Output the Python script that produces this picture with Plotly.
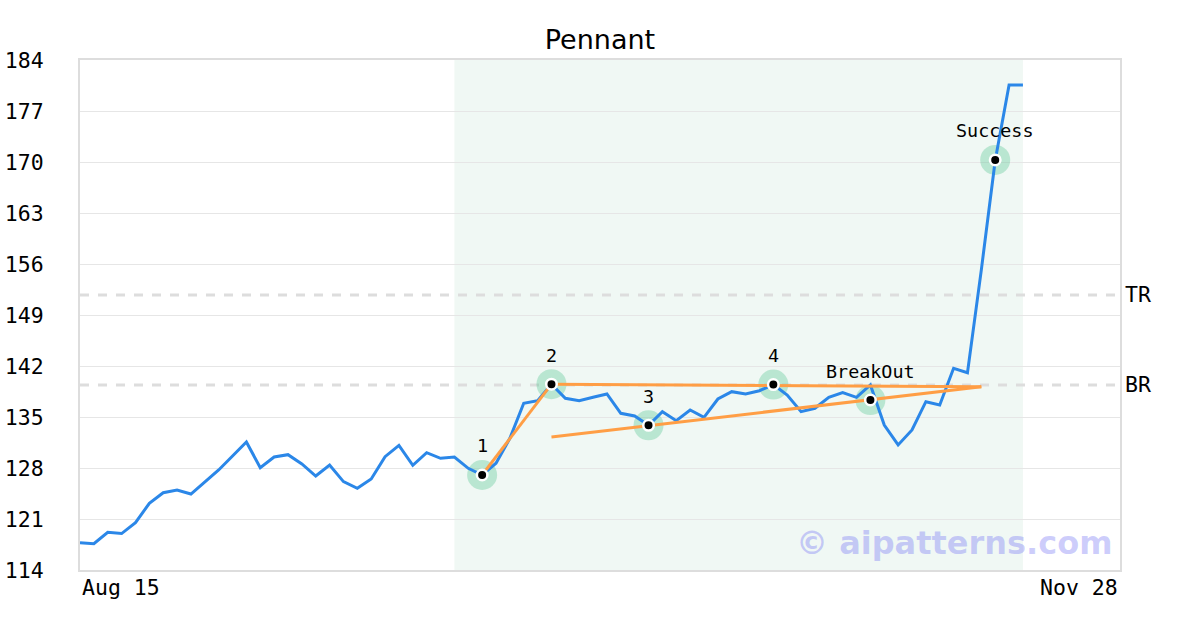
import plotly.graph_objects as go

# closing prices, one per trading day (index 0 = Aug 15)
price = [
    117.75, 117.6, 119.17, 119.0, 120.5, 123.15, 124.6, 124.98, 124.43, 126.13,
    127.73, 129.65, 131.57, 128.05, 129.51, 129.83, 128.55, 126.9, 128.41, 126.13,
    125.21, 126.5, 129.55, 131.11, 128.37, 130.1, 129.33, 129.51, 127.96, 127.04,
    128.65, 132.07, 136.88, 137.24, 139.5, 137.57, 137.24, 137.7, 138.16, 135.51,
    135.14, 133.86, 135.73, 134.5, 135.96, 134.96, 137.47, 138.48, 138.16, 138.61,
    139.45, 138.02, 135.73, 136.2, 137.7, 138.34, 137.7, 139.4, 133.9, 131.16,
    133.22, 137.1, 136.65, 141.68, 141.08, 155.2, 170.2, 180.57, 180.57,
]
days = list(range(len(price)))

# pattern points
point_labels = ["1", "2", "3", "4", "BreakOut", "Success"]
point_x = [29, 34, 41, 50, 57, 66]
point_y = [127.04, 139.5, 133.86, 139.45, 137.33, 170.28]

# pennant outline
leg_x, leg_y = [29, 34], [127.04, 139.5]
top_x, top_y = [34, 65], [139.5, 139.15]
bottom_x, bottom_y = [34, 65], [132.26, 139.15]

# support / resistance levels
levels = {"TR": 151.75, "BR": 139.4}

pattern_start, pattern_end = 27, 68
x_range = [0, 75]
date_labels = ["Aug 15", "Nov 28"]
y_ticks = list(range(114, 185, 7))

MONO = "DejaVu Sans Mono"
BLUE = "#2b87e8"
ORANGE = "#ff9e45"

fig = go.Figure()

# halo below the lines
fig.add_trace(go.Scatter(x=point_x, y=point_y, mode="markers",
                         marker=dict(size=30, color="rgba(60,190,130,0.3)"),
                         hoverinfo="skip"))

fig.add_trace(go.Scatter(x=days, y=price, mode="lines",
                         line=dict(color=BLUE, width=3), hoverinfo="skip"))
for xs, ys in [(leg_x, leg_y), (top_x, top_y), (bottom_x, bottom_y)]:
    fig.add_trace(go.Scatter(x=xs, y=ys, mode="lines",
                             line=dict(color=ORANGE, width=3), hoverinfo="skip"))

# white ring + black dot on top
fig.add_trace(go.Scatter(x=point_x, y=point_y, mode="markers",
                         marker=dict(size=10.5, color="black",
                                     line=dict(color="white", width=2.5)),
                         hoverinfo="skip"))

fig.add_shape(type="rect", xref="x", yref="paper", x0=pattern_start, x1=pattern_end,
              y0=0, y1=1, fillcolor="#f0f8f4", line_width=0, layer="below")

for name, lvl in levels.items():
    fig.add_shape(type="line", xref="paper", yref="y", x0=0, x1=1, y0=lvl, y1=lvl,
                  line=dict(color="#dddddd", width=3, dash="dash"), layer="below")
    fig.add_annotation(x=1, xref="paper", y=lvl, yref="y", text=name, showarrow=False,
                       xanchor="left", xshift=3, font=dict(family=MONO, size=21.5, color="black"))

for lbl, px_, py_ in zip(point_labels, point_x, point_y):
    fig.add_annotation(x=px_, y=py_, text=lbl, showarrow=False, yshift=29,
                       font=dict(family=MONO, size=18.4, color="black"))

fig.add_annotation(x=x_range[0], xref="x", y=0, yref="paper", text=date_labels[0],
                   showarrow=False, xanchor="left", yanchor="top", yshift=-3,
                   font=dict(family=MONO, size=21.5, color="black"))
fig.add_annotation(x=x_range[1], xref="x", y=0, yref="paper", text=date_labels[1],
                   showarrow=False, xanchor="right", yanchor="top", yshift=-3,
                   font=dict(family=MONO, size=21.5, color="black"))

fig.add_annotation(x=0.841, xref="paper", y=0.052, yref="paper",
                   xanchor="center", yanchor="middle",
                   text="<b>© aipatterns.com</b>", showarrow=False,
                   font=dict(family="DejaVu Sans", size=32, color="rgba(110,110,245,0.35)"))

fig.update_layout(
    width=1200, height=630,
    margin=dict(l=80, r=80, t=60, b=60),
    paper_bgcolor="white", plot_bgcolor="white",
    showlegend=False,
    title=dict(text="Pennant", x=0.5, xanchor="center", y=1 - 40 / 630,
               yanchor="middle", xref="paper",
               font=dict(family="DejaVu Sans", size=27, color="black")),
    xaxis=dict(range=x_range, showgrid=False, showticklabels=False, zeroline=False,
               automargin=False,
               showline=True, linecolor="#dddddd", linewidth=2, mirror=True),
    yaxis=dict(range=[114, 184], tickvals=y_ticks, gridcolor="#e6e6e6", zeroline=False,
               automargin=False,
               showline=True, linecolor="#dddddd", linewidth=2, mirror=True,
               ticklabelstandoff=30, tickfont=dict(family=MONO, size=21.5, color="black")),
)

# drop the default body margin so the figure fills the window exactly
fig.write_html("out.html", config={"displayModeBar": False},
               post_script="document.body.style.margin='0';document.body.style.overflow='hidden';")
